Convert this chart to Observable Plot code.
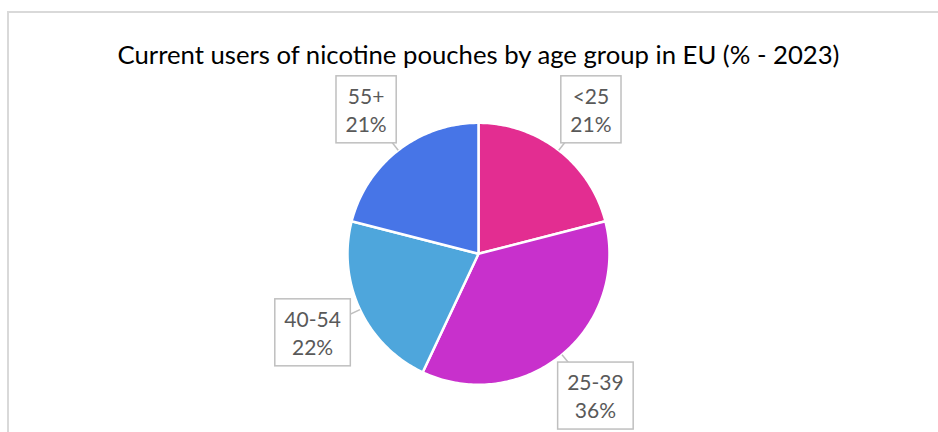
<!DOCTYPE html>
<html><head><meta charset="utf-8">
<script src="https://cdn.jsdelivr.net/npm/d3@7"></script>
<script src="https://cdn.jsdelivr.net/npm/@observablehq/plot@0.6"></script>
<style>
html,body{margin:0;padding:0;background:#fff;overflow:hidden;width:938px;height:432px}
#wrap{position:relative;width:938px;height:432px}
#frame{position:absolute;left:7px;top:11px;width:1000px;height:1000px;border-left:2px solid #d9d9d9;border-top:2px solid #d9d9d9;box-sizing:border-box}
#chart{position:absolute;left:0;top:0}
</style></head><body>
<div id="wrap"><div id="frame"></div><div id="chart"></div></div>
<script>
const title = "Current users of nicotine pouches by age group in EU (% - 2023)";
const categories = ["<25", "25-39", "40-54", "55+"];
const shares = [21, 36, 22, 21];
const colors = ["#E32D91", "#C830CC", "#4EA6DC", "#4775E7"];

const arcs = d3.pie().sort(null).value(d => d.value)(categories.map((c, i) => ({cat: c, value: shares[i]})));
const slicePts = [];
arcs.forEach(p => {
  const n = Math.max(2, Math.ceil((p.endAngle - p.startAngle) / (Math.PI / 180)));
  slicePts.push({cat: p.data.cat, x: 0, y: 0});
  for (let k = 0; k <= n; k++) {
    const a = p.startAngle + (p.endAngle - p.startAngle) * k / n;
    slicePts.push({cat: p.data.cat, x: Math.sin(a), y: Math.cos(a)});
  }
  slicePts.push({cat: p.data.cat, x: 0, y: 0});
});
const labels = arcs.map(p => ({cat: p.data.cat, value: p.data.value, mid: (p.startAngle + p.endAngle) / 2}));
const LR = 1.40;

const svg = Plot.plot({
  width: 938, height: 432, margin: 0,
  style: {fontFamily: "Lato, sans-serif", background: "transparent"},
  x: {domain: [-1, 1], range: [347, 609], axis: null},
  y: {domain: [-1, 1], range: [384.3, 122.3], axis: null},
  color: {domain: categories, range: colors},
  marks: [
    Plot.text([title], {frameAnchor: "top", dx: 9, dy: 45, fontSize: 25.7, fill: "#000", text: d => d}),
    Plot.line(slicePts, {x: "x", y: "y", z: "cat", fill: "cat", stroke: "white", strokeWidth: 2.5, strokeLinejoin: "round", curve: "linear"}),
    Plot.link(labels, {x1: d => Math.sin(d.mid), y1: d => Math.cos(d.mid), x2: d => 1.2 * Math.sin(d.mid), y2: d => 1.2 * Math.cos(d.mid), stroke: "#bfbfbf", strokeWidth: 1.5}),
    Plot.text(labels, {x: d => LR * Math.sin(d.mid), y: d => LR * Math.cos(d.mid), text: d => `${d.cat}\n${d.value}%`, fontSize: 21, lineHeight: 1.33, fill: "#595959", className: "lbl"})
  ]
});
document.getElementById("chart").appendChild(svg);
const ns = "http://www.w3.org/2000/svg";
svg.querySelectorAll("g.lbl text").forEach(t => {
  const b = t.getBBox();
  const w = b.width + 19, h = 67;
  const cx = b.x + b.width / 2, cy = b.y + b.height / 2;
  const r = document.createElementNS(ns, "rect");
  r.setAttribute("x", cx - w / 2); r.setAttribute("y", cy - h / 2);
  r.setAttribute("width", w); r.setAttribute("height", h);
  r.setAttribute("fill", "white"); r.setAttribute("stroke", "#bfbfbf"); r.setAttribute("stroke-width", 1.5);
  const tr = t.getAttribute("transform");
  if (tr) r.setAttribute("transform", tr);
  t.parentNode.insertBefore(r, t);
});
</script>
</body></html>
